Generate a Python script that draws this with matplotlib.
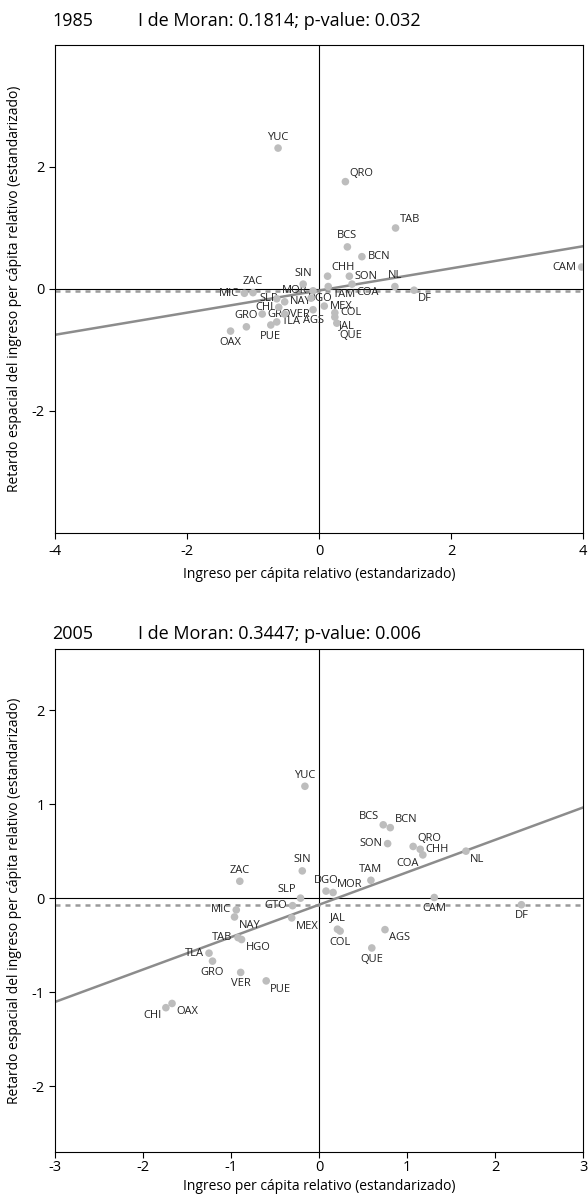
import matplotlib
matplotlib.use("Agg")
import matplotlib.pyplot as plt

plt.rcParams['font.family'] = ['Open Sans', 'DejaVu Sans']

# 1985
states_85 = ['YUC', 'QRO', 'TAB', 'BCS', 'BCN', 'CHH', 'SON', 'SIN', 'NL', 'DF', 'CAM',
             'COA', 'TAM', 'MEX', 'COL', 'JAL', 'QUE', 'AGS', 'VER', 'TLA', 'NAY', 'MOR',
             'DGO', 'GRO', 'CHI', 'SLP', 'ZAC', 'MIC', 'GRO', 'OAX', 'PUE']
x_85 = [-0.62, 0.40, 1.16, 0.43, 0.65, 0.13, 0.46, -0.24, 1.15, 1.44, 3.98,
        0.50, 0.14, 0.08, 0.24, 0.24, 0.27, -0.09, -0.52, -0.64, -0.52, -0.09,
        -0.12, -0.86, -0.61, -0.64, -1.00, -1.13, -1.10, -1.34, -0.73]
y_85 = [2.31, 1.76, 1.00, 0.69, 0.53, 0.21, 0.21, 0.08, 0.04, -0.02, 0.36,
        0.08, 0.04, -0.28, -0.39, -0.46, -0.56, -0.34, -0.41, -0.54, -0.21, -0.03,
        -0.15, -0.41, -0.30, -0.16, -0.06, -0.07, -0.62, -0.69, -0.59]
moran_85 = 0.1814
pval_85 = 0.032
mean_lag_85 = -0.025

# 2005
states_05 = ['YUC', 'SIN', 'ZAC', 'SLP', 'DGO', 'MOR', 'TAM', 'GTO', 'MIC', 'NAY', 'MEX',
             'TAB', 'HGO', 'TLA', 'GRO', 'VER', 'PUE', 'OAX', 'CHI', 'BCS', 'BCN', 'SON',
             'QRO', 'CHH', 'COA', 'NL', 'CAM', 'DF', 'JAL', 'COL', 'AGS', 'QUE']
x_05 = [-0.16, -0.19, -0.90, -0.21, 0.08, 0.16, 0.59, -0.30, -0.94, -0.96, -0.31,
        -0.92, -0.88, -1.25, -1.21, -0.89, -0.60, -1.67, -1.74, 0.73, 0.81, 0.78,
        1.07, 1.15, 1.18, 1.67, 1.31, 2.30, 0.21, 0.24, 0.75, 0.60]
y_05 = [1.19, 0.29, 0.18, 0.00, 0.075, 0.06, 0.19, -0.08, -0.125, -0.20, -0.21,
        -0.42, -0.44, -0.585, -0.67, -0.79, -0.88, -1.12, -1.165, 0.78, 0.75, 0.58,
        0.55, 0.52, 0.46, 0.50, 0.007, -0.07, -0.33, -0.35, -0.335, -0.53]
moran_05 = 0.3447
pval_05 = 0.006
mean_lag_05 = -0.07

# where each label sits around its point
pos_85 = ['n', 'ne', 'ne', 'n', 'e', 'ne', 'e', 'n', 'n', 'se', 'w',
          'se', 'se', 'e', 'e', 'se', 'sse', 's', 'e', 'e', 'e', 'w',
          'ec', 'e', 'w', 'c', 'n', 'w', 'n', 's', 's']
pos_05 = ['n', 'n', 'n', 'nw', 'n', 'ne', 'n', 'w', 'w', 'se', 'se',
          'w', 'se', 'w', 's', 's', 'se', 'se', 'sw', 'nw', 'ne', 'w',
          'ne', 'e', 'sw', 'se', 's', 's', 'n', 's', 'se', 's']

offsets = {'n': ((0, 4), 'center', 'bottom'), 's': ((0, -4), 'center', 'top'),
           'e': ((4, 0), 'left', 'center'), 'w': ((-4, 0), 'right', 'center'),
           'ne': ((3, 2), 'left', 'bottom'), 'nw': ((-3, 2), 'right', 'bottom'),
           'se': ((3, -2), 'left', 'top'), 'sw': ((-3, -2), 'right', 'top'),
           'sse': ((2, -5), 'left', 'top'), 'ec': ((-2, 0), 'left', 'center'),
           'c': ((-6, 0), 'center', 'center')}

W, H = 588, 1199
fig = plt.figure(figsize=(W / 100, H / 100), dpi=100)


def rect(l, t, r, b):
    return [l / W, 1 - b / H, (r - l) / W, (b - t) / H]


def moran_panel(ax, names, xs, ys, pos, slope, mean_lag, lim_x, lim_y, xt, yt, pad, lpad):
    ax.axvline(0, color='black', lw=0.8, zorder=1)
    ax.axhline(0, color='black', lw=0.8, zorder=1)
    ax.axhline(mean_lag, color='#9a9a9a', lw=1.8, ls=(0, (2, 2)), zorder=1)
    ax.axline((0, mean_lag), slope=slope, color='#8c8c8c', lw=1.8, zorder=2)
    for i, name in enumerate(names):
        off, ha, va = offsets[pos[i]]
        ax.annotate(name, (xs[i], ys[i]), xytext=off, textcoords='offset points',
                    ha=ha, va=va, fontsize=8, color='#222222', zorder=3)
    ax.scatter(xs, ys, s=30, color='#bdbdbd', edgecolors='none', zorder=4)
    ax.set_xlim(*lim_x)
    ax.set_ylim(*lim_y)
    ax.set_xticks(xt)
    ax.set_yticks(yt)
    ax.set_xticklabels([str(v) for v in xt])
    ax.set_yticklabels([str(v) for v in yt])
    ax.tick_params(direction='out', length=4, width=0.8, labelsize=10.5)
    ax.tick_params(axis='x', pad=pad)
    for sp in ax.spines.values():
        sp.set_linewidth(0.8)
    ax.set_xlabel('Ingreso per cápita relativo (estandarizado)', fontsize=10, labelpad=lpad)
    ax.set_ylabel('Retardo espacial del ingreso per cápita relativo (estandarizado)',
                  fontsize=10)
    ax.yaxis.set_label_coords(-0.062, 0.5)


ax1 = fig.add_axes(rect(55, 45, 583, 533))
moran_panel(ax1, states_85, x_85, y_85, pos_85, moran_85, mean_lag_85,
            (-4, 4), (-4, 4), [-4, -2, 0, 2, 4], [-2, 0, 2], 4, 6)

ax2 = fig.add_axes(rect(55, 649, 583, 1152))
moran_panel(ax2, states_05, x_05, y_05, pos_05, moran_05, mean_lag_05,
            (-3, 3), (-2.7, 2.65), [-3, -2, -1, 0, 1, 2, 3], [-2, -1, 0, 1, 2], 2, 3)

fig.text(52 / W, 1 - 21 / H, '1985', fontsize=13, va='center', ha='left')
fig.text(138 / W, 1 - 21 / H, f'I de Moran: {moran_85}; p-value: {pval_85}',
         fontsize=13, va='center', ha='left')
fig.text(52 / W, 1 - 634 / H, '2005', fontsize=13, va='center', ha='left')
fig.text(138 / W, 1 - 634 / H, f'I de Moran: {moran_05}; p-value: {pval_05}',
         fontsize=13, va='center', ha='left')

fig.savefig('out.png', dpi=100)
